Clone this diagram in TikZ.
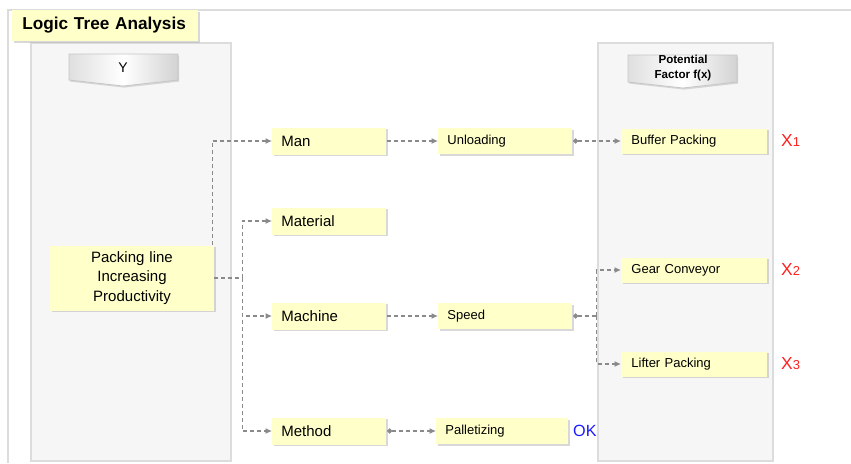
\documentclass[tikz,border=0pt]{standalone}
\usepackage{fontspec}
\setmainfont{Liberation Sans}
\usetikzlibrary{arrows.meta}
\usetikzlibrary{shadows}
\usetikzlibrary{positioning}

\definecolor{notepaper}{HTML}{FFFFCA}
\definecolor{panelgray}{HTML}{F6F6F6}
\definecolor{panelline}{HTML}{DCDCDC}
\definecolor{linkgray}{HTML}{8A8A8A}
\definecolor{markred}{HTML}{FF2020}
\definecolor{markblue}{HTML}{1A1AFF}

\begin{document}
\begin{tikzpicture}[x=0.5pt,y=-0.5pt,
    note/.style={fill=notepaper,draw=none,anchor=west,align=left,text width=#1,
      inner xsep=4.5pt,inner ysep=0pt,minimum height=13.5pt,
      drop shadow={shadow xshift=0.8pt,shadow yshift=-0.8pt,fill=black!30,opacity=0.5}},
    big note/.style={note=48pt,font=\fontsize{7.5}{9}\selectfont},
    small note/.style={note=#1,font=\fontsize{6.5}{8}\selectfont,minimum height=13pt},
    dash line/.style={draw=linkgray,line width=0.6pt,dash pattern=on 2pt off 1.5pt},
    link/.style={dash line,-{Latex[length=3.2pt,width=3pt]}},
    dot link/.style={dash line,{Diamond[length=2.8pt,width=2.8pt]}-{Latex[length=3.2pt,width=3pt]}},
    head text/.style={inner sep=0pt,align=center},
    mark x/.style={inner sep=0pt,text=markred,font=\fontsize{8.7}{10}\selectfont}]

  \useasboundingbox (0,0) rectangle (851,463);

  % frame and the two side panels
  \draw[panelline,line width=0.6pt] (8,463) -- (8,10) -- (851,10);
  \draw[panelline,fill=panelgray,line width=0.6pt] (31,43) rectangle (231,461);
  \draw[panelline,fill=panelgray,line width=0.6pt] (598,43) rectangle (773,461);

  % title
  \node[note=83pt,inner xsep=5pt,minimum height=15.5pt,font=\bfseries\fontsize{8.6}{10}\selectfont]
    (title) at (12,25.5) {Logic Tree Analysis};

  % column headers
  \shadedraw[left color=gray!25,right color=gray!35,middle color=white,draw=gray!45,line width=0.4pt,
    drop shadow={shadow xshift=0.6pt,shadow yshift=-0.8pt,fill=black!35,opacity=0.4}]
    (69,54) -- (178,54) -- (178,80) -- (123,86) -- (69,80) -- cycle;
  \node[head text,font=\fontsize{7}{8}\selectfont] (yhead) at (123,68) {Y};
  \shadedraw[left color=gray!25,right color=gray!35,middle color=white,draw=gray!45,line width=0.4pt,
    drop shadow={shadow xshift=0.6pt,shadow yshift=-0.8pt,fill=black!35,opacity=0.4}]
    (628,55) -- (737,55) -- (737,82) -- (683,88) -- (628,82) -- cycle;
  \node[head text,font=\bfseries\fontsize{5.8}{7.2}\selectfont] (fhead) at (683,68) {Potential\\Factor f(x)};

  % root
  \node[note=73pt,anchor=center,align=center,minimum height=32.5pt,font=\fontsize{7.5}{9.8}\selectfont]
    (pl) at (132,278) {Packing line\\Increasing\\Productivity};

  % 4M
  \node[big note] (man) at (272,141) {Man};
  \node[big note] (mat) at (272,221) {Material};
  \node[big note] (mach) at (272,316) {Machine};
  \node[big note] (meth) at (272,431) {Method};

  % second level
  \node[small note=58pt] (unl) at (438,141) {Unloading};
  \node[small note=58pt] (speed) at (438,316) {Speed};
  \node[small note=57pt] (pal) at (436,431) {Palletizing};

  % potential factors
  \node[small note=63pt,inner xsep=5pt,minimum height=12.5pt] (buf) at (621,141) {Buffer Packing};
  \node[small note=63pt,inner xsep=5pt,minimum height=12.5pt] (gear) at (621,270) {Gear Conveyor};
  \node[small note=63pt,inner xsep=5pt,minimum height=12.5pt] (lift) at (621,364) {Lifter Packing};

  \node[mark x,anchor=west,right=6.5pt of buf] (x1) {X{\fontsize{6.5}{7}\selectfont 1}};
  \node[mark x,anchor=west,right=6.5pt of gear] (x2) {X{\fontsize{6.5}{7}\selectfont 2}};
  \node[mark x,anchor=west,right=6.5pt of lift] (x3) {X{\fontsize{6.5}{7}\selectfont 3}};
  \node[inner sep=0pt,text=markblue,font=\fontsize{8.1}{10}\selectfont,right=2pt of pal] (ok) {OK};

  % connectors
  \coordinate[right=14pt of pl.east] (fork);
  \coordinate[right=12pt of speed.east] (sfork);
  \draw[link] ([xshift=-1pt]pl.north east) |- (man.west);
  \draw[dash line] (pl.east) -- (fork);
  \draw[link] (fork) |- (mat.west);
  \draw[link] (fork) |- (mach.west);
  \draw[link] (fork) |- (meth.west);
  \draw[link] (man.east) -- (unl.west);
  \draw[link] (mach.east) -- (speed.west);
  \draw[dot link] (unl.east) -- (buf.west);
  \draw[dot link] (meth.east) -- (pal.west);
  \draw[dash line,{Diamond[length=2.8pt,width=2.8pt]}-] (speed.east) -- (sfork);
  \draw[link] (sfork) |- (gear.west);
  \draw[link] (sfork) |- (lift.west);
\end{tikzpicture}
\end{document}
